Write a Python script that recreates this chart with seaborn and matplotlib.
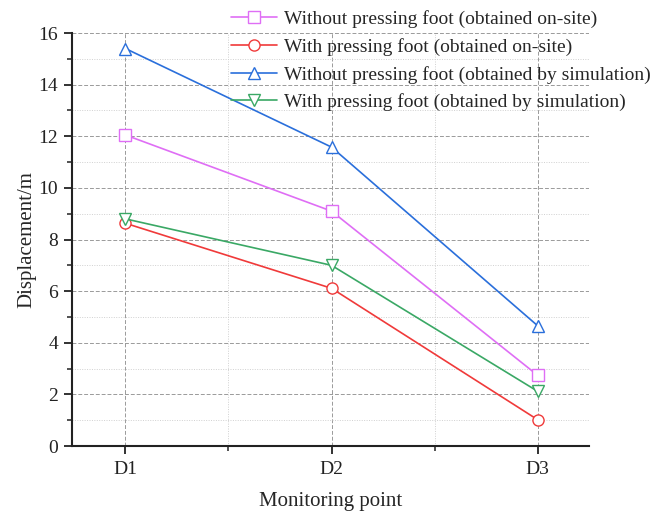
import numpy as np
import pandas as pd
import seaborn as sns
import matplotlib.pyplot as plt
from matplotlib.ticker import MultipleLocator

sns.set_style("white")
plt.rcParams["font.family"] = ["Liberation Serif", "DejaVu Serif"]
plt.rcParams["mathtext.fontset"] = "stix"

points = ["D1", "D2", "D3"]
without_onsite = [12.05, 9.10, 2.74]
with_onsite = [8.63, 6.11, 1.02]
without_sim = [15.40, 11.58, 4.66]
with_sim = [8.80, 7.00, 2.12]

labels = [
    "Without pressing foot (obtained on-site)",
    "With pressing foot (obtained on-site)",
    "Without pressing foot (obtained by simulation)",
    "With pressing foot (obtained by simulation)",
]
series = [without_onsite, with_onsite, without_sim, with_sim]
colors = ["#DF6EF5", "#F03A3A", "#2A6FDB", "#3AA865"]
markers = ["s", "o", "^", "v"]

pos = np.arange(len(points))

fig = plt.figure(figsize=(6.59, 5.13), dpi=100)
ax = fig.add_axes([0.109, 0.1306, 0.785, 0.805])

for vals, lab, col, mk in zip(series, labels, colors, markers):
    df = pd.DataFrame({"x": pos, "y": vals})
    sns.lineplot(data=df, x="x", y="y", ax=ax, color=col, marker=mk,
                 markersize=8, markerfacecolor="white", markeredgecolor=col,
                 markeredgewidth=1.0, linewidth=1.2, label=lab, zorder=3)

ax.set_xlim(-0.26, 2.25)
ax.set_ylim(0, 16)
ax.set_xticks(pos)
ax.set_xticklabels(points)
ax.xaxis.set_minor_locator(MultipleLocator(0.5))
ax.yaxis.set_major_locator(MultipleLocator(2))
ax.yaxis.set_minor_locator(MultipleLocator(1))

ax.grid(which="major", axis="both", color="#9a9a9a", linestyle=(0, (4, 2)), linewidth=0.7)
ax.grid(which="minor", axis="both", color="#d0d0d0", linestyle=(0, (1, 1.5)), linewidth=0.7)
ax.set_axisbelow(True)

for side in ["top", "right"]:
    ax.spines[side].set_visible(False)
for side in ["left", "bottom"]:
    ax.spines[side].set_linewidth(1.5)
    ax.spines[side].set_color("#222222")

ax.tick_params(which="major", direction="out", length=6, width=1.3, labelsize=14,
               colors="#222222", bottom=True, left=True)
ax.tick_params(which="minor", direction="out", length=3.5, width=1.1,
               colors="#222222", bottom=True, left=True)
ax.tick_params(axis="x", which="major", pad=5)
ax.tick_params(axis="y", which="major", pad=4)

ax.set_xlabel("Monitoring point", fontsize=15, labelpad=10)
ax.set_ylabel("Displacement/m", fontsize=15, labelpad=1)

ax.legend(loc="upper left", bbox_to_anchor=(0.338, 0.995), bbox_transform=fig.transFigure,
          frameon=False, fontsize=14, handlelength=2.4, handletextpad=0.35,
          labelspacing=0.5, borderaxespad=0)

fig.savefig("out.png", dpi=100)
